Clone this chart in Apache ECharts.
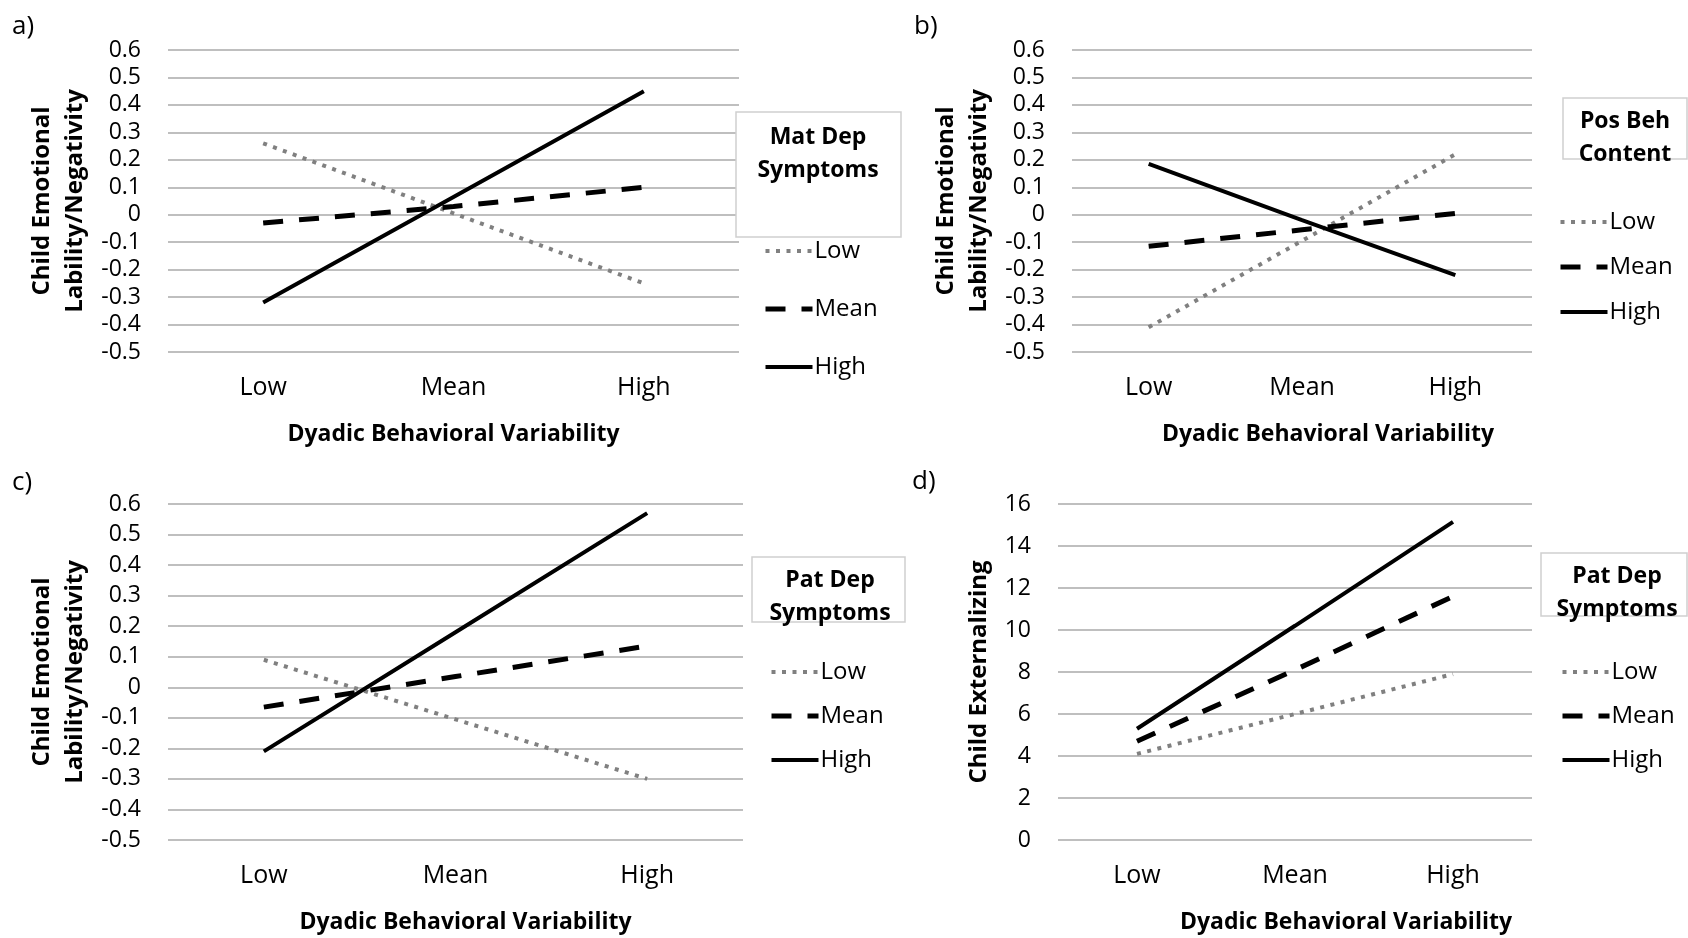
<!DOCTYPE html>
<html>
<head>
<meta charset="utf-8">
<style>
  html, body { margin: 0; padding: 0; background: #fff; }
  #chart { width: 1688px; height: 938px; }
</style>
<script src="https://cdn.jsdelivr.net/npm/echarts@6/dist/echarts.min.js"></script>
</head>
<body>
<div id="chart"></div>
<script>
// categories along x
const categories = ['Low', 'Mean', 'High'];
const levels = ['Low', 'Mean', 'High'];

// a) moderated by maternal depressive symptoms
const aLow = [0.26, 0.005, -0.25];
const aMean = [-0.03, 0.03, 0.10];
const aHigh = [-0.32, 0.065, 0.45];

// b) moderated by positive behavior content
const bLow = [-0.41, -0.095, 0.22];
const bMean = [-0.115, -0.055, 0.005];
const bHigh = [0.185, -0.02, -0.22];

// c) moderated by paternal depressive symptoms
const cLow = [0.09, -0.105, -0.30];
const cMean = [-0.065, 0.035, 0.135];
const cHigh = [-0.21, 0.18, 0.57];

// d) child externalizing, paternal depressive symptoms
const dLow = [4.1, 6.0, 7.9];
const dMean = [4.7, 8.1, 11.6];
const dHigh = [5.3, 10.2, 15.15];

const xTitle = 'Dyadic Behavioral Variability';
const yTitleEmo = 'Child Emotional\nLability/Negativity';
const yTitleExt = 'Child Externalizing';

const FONT = '"Open Sans", "Noto Sans", sans-serif';

const styles = {
  Low: { color: '#808080', width: 4, type: [4, 6.5], cap: 'butt' },
  Mean: { color: '#000', width: 5, type: [20, 16], cap: 'butt' },
  High: { color: '#000', width: 4, type: 'solid', cap: 'butt' }
};

const grids = [
  { left: 168, top: 50, width: 571, height: 302 },
  { left: 1072, top: 50, width: 460, height: 302 },
  { left: 168, top: 504, width: 575, height: 336 },
  { left: 1058, top: 504, width: 474, height: 336 }
];

function xAxis(i, shift) {
  return {
    type: 'category', gridIndex: i, data: categories, boundaryGap: true,
    axisLine: { show: false, onZero: false }, axisTick: { show: false },
    axisLabel: { color: '#000', fontSize: 25, fontFamily: FONT, margin: 23 },
    name: xTitle, nameLocation: 'middle', nameGap: 71,
    nameTextStyle: { color: '#000', fontSize: 23, fontWeight: 'bold', fontFamily: FONT, padding: [0, 0, 0, shift * 2] }
  };
}

function yAxis(i, min, max, step, title, gap) {
  return {
    type: 'value', gridIndex: i, min: min, max: max, interval: step,
    axisLine: { show: false }, axisTick: { show: false },
    splitLine: { lineStyle: { color: '#bfbfbf', width: 2 } },
    axisLabel: { color: '#000', fontSize: 23, fontFamily: FONT, margin: 27 },
    name: title, nameLocation: 'middle', nameGap: gap,
    nameTextStyle: { color: '#000', fontSize: 24, fontWeight: 'bold', fontFamily: FONT, lineHeight: 33 }
  };
}

const panelData = [
  [aLow, aMean, aHigh],
  [bLow, bMean, bHigh],
  [cLow, cMean, cHigh],
  [dLow, dMean, dHigh]
];

const series = [];
panelData.forEach((set, i) => {
  set.forEach((vals, k) => {
    const name = levels[k];
    series.push({
      type: 'line', name: name, xAxisIndex: i, yAxisIndex: i, data: vals,
      symbol: 'none', silent: true, z: k === 0 ? 2 : 3,
      itemStyle: { color: styles[name].color },
      lineStyle: styles[name]
    });
  });
});

function legend(left, top, gap) {
  return {
    data: levels.map(n => ({ name: n, itemStyle: { opacity: 0 }, lineStyle: styles[n] })),
    orient: 'vertical', left: left, top: top, padding: 0,
    itemGap: gap, itemWidth: 47, itemHeight: 14, selectedMode: false,
    textStyle: { color: '#000', fontSize: 24, fontFamily: FONT, lineHeight: 24, padding: [0, 0, 0, -3] }
  };
}

function label(x, y, text) {
  return { type: 'text', x: x, y: y, style: { text: text, font: '26px ' + FONT, fill: '#000', textVerticalAlign: 'middle' } };
}
function header(x, y, text) {
  return {
    type: 'text', x: x, y: y, z: 10,
    style: { text: text, font: 'bold 23px ' + FONT, fill: '#000', textAlign: 'center', textVerticalAlign: 'middle', lineHeight: 33 }
  };
}
function box(x, y, w, h) {
  return { type: 'rect', shape: { x: x, y: y, width: w, height: h }, z: 5, style: { fill: '#fff', stroke: '#d0d0d0', lineWidth: 1.5 } };
}

const chart = echarts.init(document.getElementById('chart'));
chart.setOption({
  backgroundColor: '#fff',
  animation: false,
  grid: grids,
  xAxis: [xAxis(0, 0), xAxis(1, 26), xAxis(2, 10), xAxis(3, 51)],
  yAxis: [
    yAxis(0, -0.5, 0.6, 0.1, yTitleEmo, 76),
    yAxis(1, -0.5, 0.6, 0.1, yTitleEmo, 76),
    yAxis(2, -0.5, 0.6, 0.1, yTitleEmo, 76),
    yAxis(3, 0, 16, 2, yTitleExt, 62)
  ],
  legend: [
    legend(763, 239, 34),
    legend(1558, 210, 21),
    legend(769, 660, 20),
    legend(1560, 660, 20)
  ],
  graphic: [
    label(12, 27, 'a)'), label(914, 27, 'b)'), label(12, 483, 'c)'), label(912, 482, 'd)'),
    box(736, 112, 165, 125), header(818, 154, 'Mat Dep\nSymptoms'),
    box(1563, 98, 124, 61), header(1625, 138, 'Pos Beh\nContent'),
    box(752, 557, 153, 65), header(830, 597, 'Pat Dep\nSymptoms'),
    box(1541, 553, 146, 63), header(1617, 593, 'Pat Dep\nSymptoms')
  ],
  series: series
});
</script>
</body>
</html>
